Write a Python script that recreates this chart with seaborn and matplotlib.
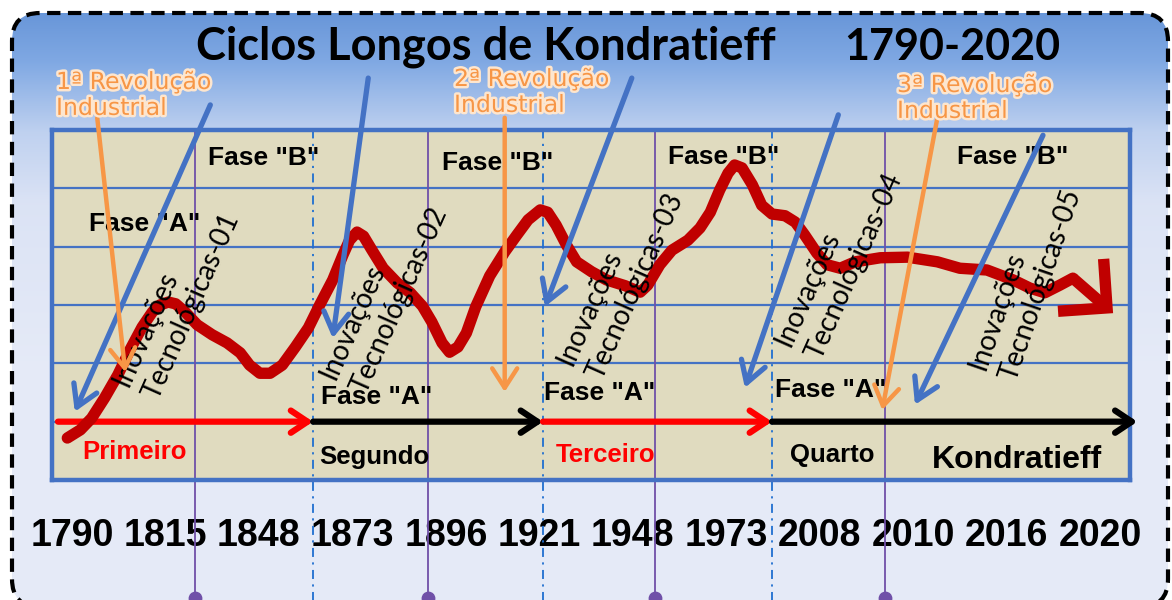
import numpy as np
import matplotlib
matplotlib.use("Agg")
import matplotlib.pyplot as plt
import seaborn as sns
import matplotlib.patheffects as pe
from matplotlib.patches import FancyBboxPatch, FancyArrowPatch
from matplotlib.transforms import IdentityTransform

# tick labels, drawn evenly spaced (one slot each) like the picture
years = ['1790', '1815', '1848', '1873', '1896', '1921',
         '1948', '1973', '2008', '2010', '2016', '2020']

# the long wave: x in tick slots, y in grid rows (0 = bottom of panel)
wave_x = [-0.05, 0.09, 0.21, 0.35, 0.49, 0.62, 0.75, 0.86, 0.94, 1.03, 1.11, 1.21,
          1.34, 1.50, 1.66, 1.80, 1.90, 2.01, 2.12, 2.25, 2.39, 2.53, 2.65, 2.79,
          2.90, 2.97, 3.05, 3.12, 3.21, 3.33, 3.48, 3.62, 3.75, 3.85, 3.96, 4.04,
          4.13, 4.22, 4.32, 4.47, 4.63, 4.76, 4.88, 5.01, 5.09, 5.18, 5.29, 5.40,
          5.56, 5.72, 5.92, 6.08, 6.16, 6.29, 6.42, 6.59, 6.72, 6.83, 6.93, 7.02,
          7.09, 7.17, 7.28, 7.38, 7.49, 7.63, 7.74, 7.84, 7.97, 8.08, 8.22, 8.38,
          8.65, 8.94, 9.26, 9.50, 9.79, 10.07, 10.25, 10.41, 10.57, 10.71]
wave_y = [0.72, 0.86, 1.06, 1.41, 1.80, 2.23, 2.62, 2.88, 3.00, 3.05, 3.02, 2.88,
          2.66, 2.49, 2.35, 2.18, 1.97, 1.83, 1.83, 1.97, 2.28, 2.61, 3.00, 3.43,
          3.86, 4.11, 4.25, 4.18, 3.94, 3.63, 3.38, 3.21, 2.98, 2.71, 2.35, 2.19,
          2.28, 2.52, 2.97, 3.50, 3.91, 4.20, 4.46, 4.63, 4.59, 4.37, 4.03, 3.74,
          3.57, 3.43, 3.33, 3.22, 3.34, 3.69, 3.94, 4.11, 4.32, 4.59, 4.97, 5.26,
          5.40, 5.35, 5.06, 4.71, 4.56, 4.53, 4.42, 4.20, 3.89, 3.69, 3.63, 3.74,
          3.81, 3.82, 3.74, 3.63, 3.60, 3.43, 3.29, 3.21, 3.34, 3.46]
wave_tip = (11.14, 2.86)

# cycles
cycle_names = ['Primeiro', 'Segundo', 'Terceiro', 'Quarto', 'Kondratieff']
cycle_colors = ['#ff0000', 'black', '#ff0000', 'black']
cycle_bounds = [-0.15, 2.58, 5.04, 7.49, 11.40]
cycle_label_x = [0.67, 3.24, 5.71, 8.13, 10.11]
cycle_label_y = [0.48, 0.39, 0.43, 0.43, 0.34]
purple_x = [1.32, 3.81, 6.24, 8.70]

# phase labels
fase_a_x = [0.78, 3.26, 5.65, 8.12]
fase_a_y = [4.39, 1.42, 1.49, 1.54]
fase_b_x = [2.05, 4.55, 6.97, 10.07]
fase_b_y = [5.52, 5.43, 5.54, 5.54]

# innovation waves: label anchor and arrow (start -> end)
inov_labels = ['Inovações\nTecnológicas-01', 'Inovações\nTecnológicas-02',
               'Inovações\nTecnológicas-03', 'Inovações\nTecnológicas-04',
               'Inovações\nTecnológicas-05']
inov_x = [0.68, 2.90, 5.43, 7.77, 9.85]
inov_y = [1.52, 1.63, 1.87, 2.21, 1.81]
inov_angle = [66, 66, 66, 66, 71]
blue_from = [(1.48, 6.43), (3.17, 6.89), (5.99, 6.89), (8.20, 6.26), (10.39, 5.91)]
blue_to = [(0.03, 1.17), (2.79, 2.43), (5.06, 2.97), (7.20, 1.58), (9.02, 1.29)]

# industrial revolutions
rev_labels = ['1ª Revolução\nIndustrial', '2ª Revolução\nIndustrial', '3ª Revolução\nIndustrial']
orange_from = [(0.27, 6.21), (4.63, 6.21), (9.26, 6.21)]
orange_to = [(0.57, 1.85), (4.63, 1.51), (8.67, 1.20)]

sns.set_style("white")
plt.rcParams['font.family'] = ['Liberation Sans', 'DejaVu Sans']
plt.rcParams['text.color'] = 'black'
plt.rcParams['xtick.color'] = 'black'

fig = plt.figure(figsize=(11.72, 6.0), dpi=100)

# background card: rounded, dashed, blue gradient (drawn in output pixels)
bg = fig.add_axes([0, 0, 1, 1], zorder=0)
bg.set_autoscale_on(False)
bg.set_xlim(0, 1172)
bg.set_ylim(0, 600)
bg.set_axis_off()
card = FancyBboxPatch((12, -7), 1156, 594, boxstyle="round,pad=0,rounding_size=28",
                      facecolor='none', edgecolor='black', lw=3,
                      linestyle=(0, (3.2, 1.8)), transform=IdentityTransform(), zorder=3)
bg.add_patch(card)
stops = np.array([[0.41, 0.59, 0.85], [0.50, 0.66, 0.89], [0.75, 0.82, 0.94],
                  [0.86, 0.89, 0.96], [0.90, 0.92, 0.97], [0.90, 0.92, 0.97]])
pos = np.array([0.0, 0.08, 0.2, 0.32, 0.6, 1.0])
t = np.linspace(0, 1, 300)
grad = np.stack([np.interp(t, pos, stops[:, k]) for k in range(3)], axis=1)[:, None, :]
im = bg.imshow(grad, extent=(12, 1168, -7, 587), origin='upper', aspect='auto', zorder=1)
im.set_clip_path(card)
bg.set_xlim(0, 1172)
bg.set_ylim(0, 600)

# main panel
ax = fig.add_axes([52 / 1172, 1 - 480 / 600, 1078 / 1172, 350 / 600], zorder=2)
ax.set_facecolor('#e0dbbf')
ax.set_xlim(-0.214, 11.321)
ax.set_ylim(0, 6)
for s in ax.spines.values():
    s.set_color('#4472c4')
    s.set_linewidth(3.2)
    s.set_visible(True)
ax.set_yticks(range(1, 6))
ax.set_yticklabels([])
ax.grid(axis='y', color='#4472c4', lw=1.6)
ax.grid(axis='x', visible=False)
ax.set_xticks(range(len(years)), labels=years)
ax.tick_params(axis='both', length=0)
ax.tick_params(axis='x', pad=27, labelcolor='black')
for lab in ax.get_xticklabels():
    lab.set_fontweight('bold')
    lab.set_fontsize(27)

# vertical markers running off the bottom
for x in purple_x:
    ax.axvline(x, ymin=-0.35, ymax=1, color='#7050a8', lw=1.3, clip_on=False, zorder=2)
ax.scatter(purple_x, [-2.03] * len(purple_x), s=80, color='#7050a8', clip_on=False, zorder=2)
for x in cycle_bounds[1:-1]:
    ax.axvline(x, ymin=-0.35, ymax=1, color='#1f6fd0', lw=1.3,
               linestyle=(0, (5, 3, 1.2, 3)), clip_on=False, zorder=2)

# cycle arrows along row 1
for i, c in enumerate(cycle_colors):
    ax.add_patch(FancyArrowPatch((cycle_bounds[i], 1.0), (cycle_bounds[i + 1], 1.0),
                                 arrowstyle='->,head_length=12,head_width=8', mutation_scale=1,
                                 color=c, lw=4.5, shrinkA=0, shrinkB=0,
                                 clip_on=False, zorder=4))

# long wave
sns.lineplot(x=wave_x, y=wave_y, sort=False, estimator=None, ax=ax, color='#c00000',
             lw=8.2, solid_joinstyle='round', solid_capstyle='round', zorder=5)
ax.add_patch(FancyArrowPatch((wave_x[-1], wave_y[-1]), wave_tip,
                             arrowstyle='->,head_length=25,head_width=25', mutation_scale=1,
                             color='#c00000', lw=8.2, shrinkA=0, shrinkB=0,
                             joinstyle='miter', capstyle='butt', zorder=5))

# texts inside the panel
for x, y in zip(fase_a_x, fase_a_y):
    ax.text(x, y, 'Fase "A"', ha='center', va='center', fontsize=19,
            fontweight='bold', zorder=6)
for x, y in zip(fase_b_x, fase_b_y):
    ax.text(x, y, 'Fase "B"', ha='center', va='center', fontsize=19,
            fontweight='bold', zorder=6)
for i, name in enumerate(cycle_names):
    col = cycle_colors[i] if i < len(cycle_colors) else 'black'
    size = 23 if name == 'Kondratieff' else 18.5
    ax.text(cycle_label_x[i], cycle_label_y[i], name, ha='center', va='center',
            fontsize=size, fontweight='bold', color=col, zorder=6)
for lab, x, y, a in zip(inov_labels, inov_x, inov_y, inov_angle):
    ax.text(x, y, lab, rotation=a, rotation_mode='anchor', ha='left', va='center',
            fontsize=20, family='Lato', linespacing=1.35, zorder=7)

# revolution and innovation arrows
for p0, p1 in zip(blue_from, blue_to):
    ax.add_patch(FancyArrowPatch(p0, p1, arrowstyle='->,head_length=15,head_width=9',
                                 mutation_scale=1, color='#4472c4', lw=3.8,
                                 shrinkA=0, shrinkB=0, clip_on=False, zorder=8))
for p0, p1 in zip(orange_from, orange_to):
    ax.add_patch(FancyArrowPatch(p0, p1, arrowstyle='->,head_length=14,head_width=9',
                                 mutation_scale=1, color='#f79646', lw=3.2,
                                 shrinkA=0, shrinkB=0, clip_on=False, zorder=8))

# title and revolution labels
fig.text(486 / 1172, 1 - 47 / 600, 'Ciclos Longos de Kondratieff', ha='center', va='center',
         fontsize=32.5, fontweight='bold', family='Lato', zorder=10)
fig.text(952 / 1172, 1 - 47 / 600, '1790-2020', ha='center', va='center',
         fontsize=31, fontweight='bold', family='Lato', zorder=10)
glow = [pe.withStroke(linewidth=3.5, foreground='#fde6cf')]
for lab, (x, y) in zip(rev_labels, [(56, 70), (454, 67), (897, 73)]):
    fig.text(x / 1172, 1 - y / 600, lab, ha='left', va='top', fontsize=17,
             family='DejaVu Sans', color='#f79646', linespacing=1.1,
             path_effects=glow, zorder=10)

fig.savefig('out.png', dpi=100, facecolor='white')
